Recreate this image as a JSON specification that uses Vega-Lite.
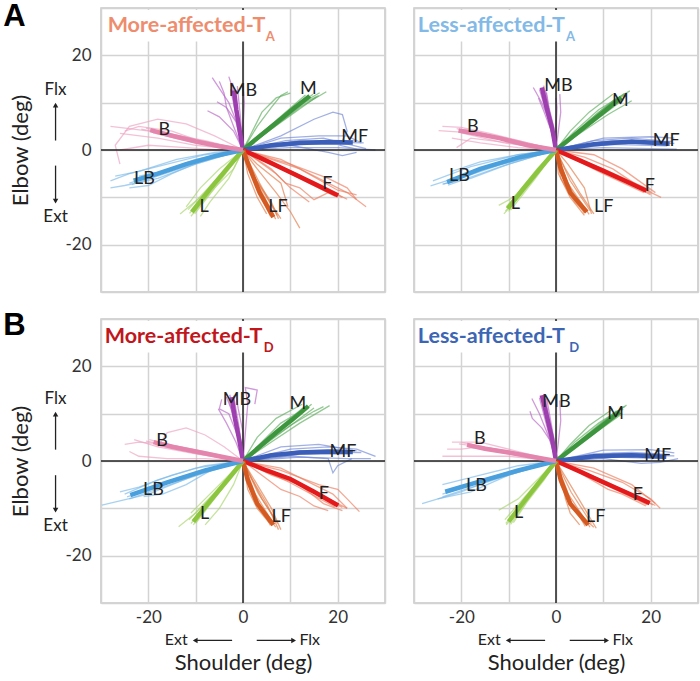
{
"$schema": "https://vega.github.io/schema/vega-lite/v6.json",
"background": "white",
"padding": {"left": 2, "top": 0, "right": 2, "bottom": 2},
"columns": 2,
"spacing": {"row": 27, "column": 29},
"bounds": "flush",
"config": {
  "view": {"stroke": "#c8c8c8", "strokeWidth": 1.5},
  "axis": {"domain": false, "ticks": false, "grid": true, "gridColor": "#d3d3d3", "gridWidth": 1.5,
    "labelFont": "Lato", "labelFontSize": 17, "labelColor": "#333",
    "labelExpr": "datum.value == 20 ? '20' : datum.value == 0 ? '0' : datum.value == -20 ? '-20' : ''",
    "titleFont": "Lato", "titleFontSize": 22, "titleFontWeight": "normal", "titleColor": "#222"},
  "legend": {"disable": true}
},
"datasets": {
"one": [{"k": 1}],
"lab": [
{"p":1,"d":"MB","x":0,"y":12.5},{"p":1,"d":"M","x":13.8,"y":12.8},{"p":1,"d":"MF","x":23.6,"y":2.7},{"p":1,"d":"F","x":17.8,"y":-7.2},{"p":1,"d":"LF","x":7.4,"y":-12.1},{"p":1,"d":"L","x":-8.2,"y":-12.1},{"p":1,"d":"LB","x":-20.8,"y":-6.1},{"p":1,"d":"B","x":-16.6,"y":4.2},
{"p":2,"d":"MB","x":0.5,"y":13.5},{"p":2,"d":"M","x":13.6,"y":10.4},{"p":2,"d":"MF","x":23.3,"y":2},{"p":2,"d":"F","x":19.8,"y":-7.5},{"p":2,"d":"LF","x":10.1,"y":-12.1},{"p":2,"d":"L","x":-8.6,"y":-11.4},{"p":2,"d":"LB","x":-20.4,"y":-5.4},{"p":2,"d":"B","x":-17.6,"y":4.8},
{"p":3,"d":"MB","x":-1.3,"y":12.8},{"p":3,"d":"M","x":11.6,"y":12.1},{"p":3,"d":"MF","x":21.1,"y":1.9},{"p":3,"d":"F","x":17.1,"y":-6.9},{"p":3,"d":"LF","x":8.1,"y":-11.8},{"p":3,"d":"L","x":-8.1,"y":-11.1},{"p":3,"d":"LB","x":-18.9,"y":-6.2},{"p":3,"d":"B","x":-17.1,"y":4.2},
{"p":4,"d":"MB","x":0.1,"y":12.5},{"p":4,"d":"M","x":12.6,"y":10},{"p":4,"d":"MF","x":21.5,"y":1},{"p":4,"d":"F","x":17.3,"y":-7.2},{"p":4,"d":"LF","x":8.4,"y":-11.9},{"p":4,"d":"L","x":-7.9,"y":-11},{"p":4,"d":"LB","x":-16.8,"y":-5.2},{"p":4,"d":"B","x":-16.1,"y":4.6}
],
"t1": [
{"d":"MB","t":0,"x":0,"y":0},{"d":"MB","t":0,"x":-0.7,"y":4},{"d":"MB","t":0,"x":-1.4,"y":8.5},{"d":"MB","t":0,"x":-1.9,"y":12.6},
{"d":"MB","t":1,"x":0,"y":0},{"d":"MB","t":1,"x":-1,"y":5},{"d":"MB","t":1,"x":-3,"y":10},{"d":"MB","t":1,"x":-5,"y":13},{"d":"MB","t":1,"x":-6.5,"y":15.3},
{"d":"MB","t":2,"x":0,"y":0},{"d":"MB","t":2,"x":-2,"y":4},{"d":"MB","t":2,"x":-5,"y":7},{"d":"MB","t":2,"x":-7.5,"y":8.3},
{"d":"MB","t":3,"x":0,"y":0},{"d":"MB","t":3,"x":-1,"y":6},{"d":"MB","t":3,"x":-2,"y":11},{"d":"MB","t":3,"x":-2.5,"y":14},{"d":"MB","t":3,"x":-3,"y":15.5},
{"d":"MB","t":4,"x":0,"y":0},{"d":"MB","t":4,"x":0,"y":5},{"d":"MB","t":4,"x":0.3,"y":10},{"d":"MB","t":4,"x":0,"y":13.5},
{"d":"MB","t":5,"x":0,"y":0},{"d":"MB","t":5,"x":-1.5,"y":6},{"d":"MB","t":5,"x":-3.5,"y":9},{"d":"MB","t":5,"x":-5.5,"y":10.2},
{"d":"MB","t":6,"x":0,"y":0},{"d":"MB","t":6,"x":-2,"y":5},{"d":"MB","t":6,"x":-3.5,"y":9},{"d":"MB","t":6,"x":-4,"y":12},{"d":"MB","t":6,"x":-5,"y":14.5},
{"d":"MB","t":7,"x":0,"y":0},{"d":"MB","t":7,"x":-0.5,"y":6.5},{"d":"MB","t":7,"x":-1.2,"y":13.5},
{"d":"MB","t":8,"x":0,"y":0},{"d":"MB","t":8,"x":-1.2,"y":6},{"d":"MB","t":8,"x":-2.6,"y":12.8},
{"d":"MB","t":9,"x":0,"y":0},{"d":"MB","t":9,"x":-0.8,"y":6.2},{"d":"MB","t":9,"x":-2.2,"y":14.2},
{"d":"M","t":0,"x":0,"y":0},{"d":"M","t":0,"x":3.5,"y":2.9},{"d":"M","t":0,"x":7,"y":5.7},{"d":"M","t":0,"x":10.5,"y":8.6},{"d":"M","t":0,"x":14.1,"y":11.4},
{"d":"M","t":1,"x":0,"y":0},{"d":"M","t":1,"x":3,"y":5},{"d":"M","t":1,"x":6,"y":9},{"d":"M","t":1,"x":8,"y":11.5},{"d":"M","t":1,"x":9.5,"y":12.3},
{"d":"M","t":2,"x":0,"y":0},{"d":"M","t":2,"x":5,"y":4.5},{"d":"M","t":2,"x":10,"y":8.5},{"d":"M","t":2,"x":16.2,"y":12.1},
{"d":"M","t":3,"x":0,"y":0},{"d":"M","t":3,"x":6,"y":4.5},{"d":"M","t":3,"x":12,"y":9},{"d":"M","t":3,"x":17.6,"y":12.3},
{"d":"M","t":4,"x":0,"y":0},{"d":"M","t":4,"x":4,"y":3},{"d":"M","t":4,"x":9,"y":7},{"d":"M","t":4,"x":13,"y":10},{"d":"M","t":4,"x":16,"y":11.5},
{"d":"M","t":5,"x":0,"y":0},{"d":"M","t":5,"x":2,"y":4},{"d":"M","t":5,"x":4,"y":8},{"d":"M","t":5,"x":7,"y":11},{"d":"M","t":5,"x":10,"y":12},
{"d":"M","t":7,"x":0,"y":0},{"d":"M","t":7,"x":7,"y":6},{"d":"M","t":7,"x":14.8,"y":11.8},
{"d":"M","t":8,"x":0,"y":0},{"d":"M","t":8,"x":7.5,"y":5.5},{"d":"M","t":8,"x":15.5,"y":11.2},
{"d":"M","t":9,"x":0,"y":0},{"d":"M","t":9,"x":6.5,"y":5.8},{"d":"M","t":9,"x":13.2,"y":11.6},
{"d":"MF","t":0,"x":0,"y":0},{"d":"MF","t":0,"x":6,"y":1},{"d":"MF","t":0,"x":12,"y":1.5},{"d":"MF","t":0,"x":18,"y":1.7},{"d":"MF","t":0,"x":23.2,"y":1.6},
{"d":"MF","t":1,"x":0,"y":0},{"d":"MF","t":1,"x":8,"y":3},{"d":"MF","t":1,"x":15,"y":6.5},{"d":"MF","t":1,"x":19,"y":8},{"d":"MF","t":1,"x":21,"y":7.5},{"d":"MF","t":1,"x":22,"y":4},{"d":"MF","t":1,"x":20.5,"y":1},{"d":"MF","t":1,"x":24,"y":0.2},
{"d":"MF","t":2,"x":0,"y":0},{"d":"MF","t":2,"x":10,"y":0.5},{"d":"MF","t":2,"x":20,"y":0.5},{"d":"MF","t":2,"x":28,"y":0},
{"d":"MF","t":3,"x":0,"y":0},{"d":"MF","t":3,"x":8,"y":2.5},{"d":"MF","t":3,"x":16,"y":3},{"d":"MF","t":3,"x":22,"y":3},{"d":"MF","t":3,"x":25,"y":1.5},
{"d":"MF","t":4,"x":0,"y":0},{"d":"MF","t":4,"x":10,"y":1},{"d":"MF","t":4,"x":18,"y":-0.5},{"d":"MF","t":4,"x":21,"y":-1.2},{"d":"MF","t":4,"x":24,"y":-0.5},
{"d":"MF","t":5,"x":0,"y":0},{"d":"MF","t":5,"x":9,"y":2},{"d":"MF","t":5,"x":17,"y":2.5},{"d":"MF","t":5,"x":26,"y":0.3},
{"d":"MF","t":7,"x":0,"y":0},{"d":"MF","t":7,"x":12,"y":2},{"d":"MF","t":7,"x":24,"y":1.9},
{"d":"MF","t":8,"x":0,"y":0},{"d":"MF","t":8,"x":12,"y":1.2},{"d":"MF","t":8,"x":22.5,"y":1.2},
{"d":"MF","t":9,"x":0,"y":0},{"d":"MF","t":9,"x":11,"y":1.8},{"d":"MF","t":9,"x":25.5,"y":1.5},
{"d":"F","t":0,"x":0,"y":0},{"d":"F","t":0,"x":5,"y":-2.3},{"d":"F","t":0,"x":10,"y":-4.7},{"d":"F","t":0,"x":15,"y":-7.1},{"d":"F","t":0,"x":20.1,"y":-9.6},
{"d":"F","t":1,"x":0,"y":0},{"d":"F","t":1,"x":8,"y":-2},{"d":"F","t":1,"x":16,"y":-6},{"d":"F","t":1,"x":22,"y":-9},{"d":"F","t":1,"x":26,"y":-12},
{"d":"F","t":2,"x":0,"y":0},{"d":"F","t":2,"x":6,"y":-4},{"d":"F","t":2,"x":9,"y":-7},{"d":"F","t":2,"x":12,"y":-8},{"d":"F","t":2,"x":15,"y":-10.5},{"d":"F","t":2,"x":18,"y":-9},
{"d":"F","t":3,"x":0,"y":0},{"d":"F","t":3,"x":10,"y":-3},{"d":"F","t":3,"x":18,"y":-6},{"d":"F","t":3,"x":22,"y":-8},{"d":"F","t":3,"x":24,"y":-10.5},
{"d":"F","t":4,"x":0,"y":0},{"d":"F","t":4,"x":7,"y":-5},{"d":"F","t":4,"x":10,"y":-8},{"d":"F","t":4,"x":14,"y":-11},
{"d":"F","t":5,"x":0,"y":0},{"d":"F","t":5,"x":12,"y":-4},{"d":"F","t":5,"x":20,"y":-8.5},{"d":"F","t":5,"x":24,"y":-9.5},
{"d":"F","t":7,"x":0,"y":0},{"d":"F","t":7,"x":10,"y":-4.4},{"d":"F","t":7,"x":21,"y":-10},
{"d":"F","t":8,"x":0,"y":0},{"d":"F","t":8,"x":10,"y":-5},{"d":"F","t":8,"x":19.5,"y":-9.8},
{"d":"F","t":9,"x":0,"y":0},{"d":"F","t":9,"x":11,"y":-4.8},{"d":"F","t":9,"x":22,"y":-10.4},
{"d":"LF","t":0,"x":0,"y":0},{"d":"LF","t":0,"x":1.5,"y":-4},{"d":"LF","t":0,"x":3.5,"y":-9},{"d":"LF","t":0,"x":6.4,"y":-14.2},
{"d":"LF","t":1,"x":0,"y":0},{"d":"LF","t":1,"x":2,"y":-5},{"d":"LF","t":1,"x":5,"y":-10},{"d":"LF","t":1,"x":8,"y":-14.5},
{"d":"LF","t":2,"x":0,"y":0},{"d":"LF","t":2,"x":3,"y":-4},{"d":"LF","t":2,"x":7,"y":-9},{"d":"LF","t":2,"x":10,"y":-13},{"d":"LF","t":2,"x":12,"y":-16.5},
{"d":"LF","t":3,"x":0,"y":0},{"d":"LF","t":3,"x":1,"y":-5},{"d":"LF","t":3,"x":3,"y":-10},{"d":"LF","t":3,"x":5,"y":-13.5},
{"d":"LF","t":4,"x":0,"y":0},{"d":"LF","t":4,"x":2.5,"y":-6},{"d":"LF","t":4,"x":6,"y":-11},{"d":"LF","t":4,"x":7.5,"y":-14.5},
{"d":"LF","t":5,"x":0,"y":0},{"d":"LF","t":5,"x":3,"y":-3},{"d":"LF","t":5,"x":8,"y":-7},{"d":"LF","t":5,"x":9.5,"y":-12},
{"d":"LF","t":7,"x":0,"y":0},{"d":"LF","t":7,"x":3,"y":-7},{"d":"LF","t":7,"x":6.9,"y":-14.6},
{"d":"LF","t":8,"x":0,"y":0},{"d":"LF","t":8,"x":2.8,"y":-7.5},{"d":"LF","t":8,"x":5.8,"y":-14},
{"d":"LF","t":9,"x":0,"y":0},{"d":"LF","t":9,"x":3.5,"y":-7},{"d":"LF","t":9,"x":7.2,"y":-13.8},
{"d":"L","t":0,"x":0,"y":0},{"d":"L","t":0,"x":-3,"y":-3.5},{"d":"L","t":0,"x":-7,"y":-8.3},{"d":"L","t":0,"x":-10.8,"y":-13.1},
{"d":"L","t":1,"x":0,"y":0},{"d":"L","t":1,"x":-4,"y":-5},{"d":"L","t":1,"x":-9,"y":-10},{"d":"L","t":1,"x":-13.3,"y":-13.5},
{"d":"L","t":2,"x":0,"y":0},{"d":"L","t":2,"x":-2,"y":-4},{"d":"L","t":2,"x":-6,"y":-8},{"d":"L","t":2,"x":-11,"y":-14},
{"d":"L","t":3,"x":0,"y":0},{"d":"L","t":3,"x":-5,"y":-4},{"d":"L","t":3,"x":-9,"y":-8},{"d":"L","t":3,"x":-12,"y":-12},
{"d":"L","t":4,"x":0,"y":0},{"d":"L","t":4,"x":-3,"y":-6},{"d":"L","t":4,"x":-7,"y":-11},{"d":"L","t":4,"x":-9,"y":-14},
{"d":"L","t":7,"x":0,"y":0},{"d":"L","t":7,"x":-5.5,"y":-6.5},{"d":"L","t":7,"x":-11.3,"y":-13.4},
{"d":"L","t":8,"x":0,"y":0},{"d":"L","t":8,"x":-5,"y":-6.8},{"d":"L","t":8,"x":-10.2,"y":-13.5},
{"d":"L","t":9,"x":0,"y":0},{"d":"L","t":9,"x":-5.7,"y":-6.2},{"d":"L","t":9,"x":-11.6,"y":-12.6},
{"d":"LB","t":0,"x":0,"y":0},{"d":"LB","t":0,"x":-6,"y":-1.3},{"d":"LB","t":0,"x":-12,"y":-3},{"d":"LB","t":0,"x":-18,"y":-5},{"d":"LB","t":0,"x":-23.1,"y":-6.5},
{"d":"LB","t":1,"x":0,"y":0},{"d":"LB","t":1,"x":-8,"y":-1},{"d":"LB","t":1,"x":-16,"y":-3},{"d":"LB","t":1,"x":-24,"y":-5},{"d":"LB","t":1,"x":-28,"y":-6.5},
{"d":"LB","t":2,"x":0,"y":0},{"d":"LB","t":2,"x":-10,"y":-3},{"d":"LB","t":2,"x":-18,"y":-6},{"d":"LB","t":2,"x":-25,"y":-7.5},{"d":"LB","t":2,"x":-28,"y":-8},
{"d":"LB","t":3,"x":0,"y":0},{"d":"LB","t":3,"x":-8,"y":-2},{"d":"LB","t":3,"x":-15,"y":-5},{"d":"LB","t":3,"x":-20,"y":-7.5},{"d":"LB","t":3,"x":-24,"y":-8},
{"d":"LB","t":4,"x":0,"y":0},{"d":"LB","t":4,"x":-6,"y":-0.5},{"d":"LB","t":4,"x":-14,"y":-2},{"d":"LB","t":4,"x":-22,"y":-4.5},{"d":"LB","t":4,"x":-27,"y":-5.5},
{"d":"LB","t":5,"x":0,"y":0},{"d":"LB","t":5,"x":-10,"y":-2},{"d":"LB","t":5,"x":-17,"y":-4.5},{"d":"LB","t":5,"x":-22,"y":-5.5},
{"d":"LB","t":7,"x":0,"y":0},{"d":"LB","t":7,"x":-12,"y":-3.2},{"d":"LB","t":7,"x":-24,"y":-7},
{"d":"LB","t":8,"x":0,"y":0},{"d":"LB","t":8,"x":-11,"y":-2.6},{"d":"LB","t":8,"x":-22,"y":-6},
{"d":"LB","t":9,"x":0,"y":0},{"d":"LB","t":9,"x":-12,"y":-3.5},{"d":"LB","t":9,"x":-23.5,"y":-7.3},
{"d":"B","t":0,"x":0,"y":0},{"d":"B","t":0,"x":-5,"y":0.8},{"d":"B","t":0,"x":-10,"y":1.8},{"d":"B","t":0,"x":-15,"y":3},{"d":"B","t":0,"x":-19.6,"y":4.2},
{"d":"B","t":1,"x":0,"y":0},{"d":"B","t":1,"x":-8,"y":2},{"d":"B","t":1,"x":-16,"y":3.5},{"d":"B","t":1,"x":-24,"y":4.5},{"d":"B","t":1,"x":-28,"y":5},
{"d":"B","t":2,"x":0,"y":0},{"d":"B","t":2,"x":-6,"y":3},{"d":"B","t":2,"x":-12,"y":5.5},{"d":"B","t":2,"x":-18,"y":6.5},{"d":"B","t":2,"x":-24,"y":5},{"d":"B","t":2,"x":-27,"y":1},{"d":"B","t":2,"x":-26,"y":-3},
{"d":"B","t":3,"x":0,"y":0},{"d":"B","t":3,"x":-10,"y":1},{"d":"B","t":3,"x":-18,"y":2.5},{"d":"B","t":3,"x":-26,"y":3.5},
{"d":"B","t":4,"x":0,"y":0},{"d":"B","t":4,"x":-8,"y":1.5},{"d":"B","t":4,"x":-15,"y":4},{"d":"B","t":4,"x":-22,"y":5},{"d":"B","t":4,"x":-25,"y":4},
{"d":"B","t":5,"x":0,"y":0},{"d":"B","t":5,"x":-5,"y":0},{"d":"B","t":5,"x":-12,"y":0.5},{"d":"B","t":5,"x":-20,"y":1},{"d":"B","t":5,"x":-26,"y":0},
{"d":"B","t":7,"x":0,"y":0},{"d":"B","t":7,"x":-10,"y":2.2},{"d":"B","t":7,"x":-20.5,"y":4.6},
{"d":"B","t":8,"x":0,"y":0},{"d":"B","t":8,"x":-10,"y":1.5},{"d":"B","t":8,"x":-19,"y":3.6},
{"d":"B","t":9,"x":0,"y":0},{"d":"B","t":9,"x":-11,"y":2.4},{"d":"B","t":9,"x":-21.5,"y":4.4}
],
"t2": [
{"d":"MB","t":0,"x":0,"y":0},{"d":"MB","t":0,"x":-0.8,"y":4.5},{"d":"MB","t":0,"x":-2,"y":9},{"d":"MB","t":0,"x":-3,"y":13.2},
{"d":"MB","t":1,"x":0,"y":0},{"d":"MB","t":1,"x":-1,"y":5},{"d":"MB","t":1,"x":-3,"y":10},{"d":"MB","t":1,"x":-4.8,"y":13.2},
{"d":"MB","t":2,"x":0,"y":0},{"d":"MB","t":2,"x":0.5,"y":4},{"d":"MB","t":2,"x":1,"y":8},{"d":"MB","t":2,"x":0.8,"y":11.8},
{"d":"MB","t":3,"x":0,"y":0},{"d":"MB","t":3,"x":-1,"y":4},{"d":"MB","t":3,"x":-2.5,"y":8},{"d":"MB","t":3,"x":-3.7,"y":11},
{"d":"MB","t":4,"x":0,"y":0},{"d":"MB","t":4,"x":0,"y":5},{"d":"MB","t":4,"x":0.2,"y":9},{"d":"MB","t":4,"x":0,"y":11},
{"d":"MB","t":5,"x":0,"y":0},{"d":"MB","t":5,"x":-0.5,"y":5},{"d":"MB","t":5,"x":-1.5,"y":9},{"d":"MB","t":5,"x":-2,"y":12.1},
{"d":"MB","t":6,"x":0,"y":0},{"d":"MB","t":6,"x":-1.2,"y":6.8},{"d":"MB","t":6,"x":-2.6,"y":13.6},
{"d":"MB","t":7,"x":0,"y":0},{"d":"MB","t":7,"x":-1.6,"y":6.5},{"d":"MB","t":7,"x":-3.5,"y":12.8},
{"d":"MB","t":8,"x":0,"y":0},{"d":"MB","t":8,"x":-1,"y":6},{"d":"MB","t":8,"x":-2.2,"y":12.6},
{"d":"M","t":0,"x":0,"y":0},{"d":"M","t":0,"x":3.5,"y":2.8},{"d":"M","t":0,"x":7,"y":5.6},{"d":"M","t":0,"x":10.5,"y":8.4},{"d":"M","t":0,"x":13.8,"y":11.1},
{"d":"M","t":1,"x":0,"y":0},{"d":"M","t":1,"x":4,"y":4},{"d":"M","t":1,"x":9,"y":8.5},{"d":"M","t":1,"x":15.6,"y":12.5},
{"d":"M","t":2,"x":0,"y":0},{"d":"M","t":2,"x":3,"y":4},{"d":"M","t":2,"x":7,"y":8},{"d":"M","t":2,"x":12,"y":11.8},
{"d":"M","t":3,"x":0,"y":0},{"d":"M","t":3,"x":5,"y":3.5},{"d":"M","t":3,"x":11,"y":7.5},{"d":"M","t":3,"x":16,"y":10.4},
{"d":"M","t":4,"x":0,"y":0},{"d":"M","t":4,"x":4,"y":3.5},{"d":"M","t":4,"x":9,"y":8},{"d":"M","t":4,"x":14.5,"y":12},
{"d":"M","t":5,"x":0,"y":0},{"d":"M","t":5,"x":7,"y":6},{"d":"M","t":5,"x":14.4,"y":11.6},
{"d":"M","t":6,"x":0,"y":0},{"d":"M","t":6,"x":7,"y":5.3},{"d":"M","t":6,"x":14.2,"y":10.6},
{"d":"M","t":7,"x":0,"y":0},{"d":"M","t":7,"x":6.5,"y":5.8},{"d":"M","t":7,"x":13,"y":11.2},
{"d":"MF","t":0,"x":0,"y":0},{"d":"MF","t":0,"x":8,"y":1.2},{"d":"MF","t":0,"x":16,"y":1.8},{"d":"MF","t":0,"x":24,"y":1.3},
{"d":"MF","t":1,"x":0,"y":0},{"d":"MF","t":1,"x":10,"y":2.5},{"d":"MF","t":1,"x":20,"y":2.8},{"d":"MF","t":1,"x":25,"y":2.5},
{"d":"MF","t":2,"x":0,"y":0},{"d":"MF","t":2,"x":10,"y":0.5},{"d":"MF","t":2,"x":20,"y":0.3},{"d":"MF","t":2,"x":25.5,"y":0.2},
{"d":"MF","t":3,"x":0,"y":0},{"d":"MF","t":3,"x":10,"y":1.8},{"d":"MF","t":3,"x":18,"y":2},{"d":"MF","t":3,"x":24,"y":1},
{"d":"MF","t":4,"x":0,"y":0},{"d":"MF","t":4,"x":8,"y":2},{"d":"MF","t":4,"x":16,"y":2.5},{"d":"MF","t":4,"x":22,"y":2},
{"d":"MF","t":5,"x":0,"y":0},{"d":"MF","t":5,"x":12,"y":2},{"d":"MF","t":5,"x":24.5,"y":1.8},
{"d":"MF","t":6,"x":0,"y":0},{"d":"MF","t":6,"x":12,"y":1.2},{"d":"MF","t":6,"x":23.5,"y":0.9},
{"d":"MF","t":7,"x":0,"y":0},{"d":"MF","t":7,"x":11,"y":1.6},{"d":"MF","t":7,"x":25,"y":1.4},
{"d":"F","t":0,"x":0,"y":0},{"d":"F","t":0,"x":5,"y":-2.2},{"d":"F","t":0,"x":10,"y":-4.4},{"d":"F","t":0,"x":15,"y":-6.7},{"d":"F","t":0,"x":19.1,"y":-8.6},
{"d":"F","t":1,"x":0,"y":0},{"d":"F","t":1,"x":6,"y":-1.5},{"d":"F","t":1,"x":12,"y":-4},{"d":"F","t":1,"x":18,"y":-8},{"d":"F","t":1,"x":22.2,"y":-10},
{"d":"F","t":2,"x":0,"y":0},{"d":"F","t":2,"x":6,"y":-2.5},{"d":"F","t":2,"x":13,"y":-5.5},{"d":"F","t":2,"x":20,"y":-9.5},
{"d":"F","t":3,"x":0,"y":0},{"d":"F","t":3,"x":8,"y":-1},{"d":"F","t":3,"x":14,"y":-4},{"d":"F","t":3,"x":21,"y":-9},
{"d":"F","t":4,"x":0,"y":0},{"d":"F","t":4,"x":7,"y":-3},{"d":"F","t":4,"x":14,"y":-6},{"d":"F","t":4,"x":20,"y":-8.8},
{"d":"F","t":5,"x":0,"y":0},{"d":"F","t":5,"x":10,"y":-4.2},{"d":"F","t":5,"x":20,"y":-9.2},
{"d":"F","t":6,"x":0,"y":0},{"d":"F","t":6,"x":9.5,"y":-4.8},{"d":"F","t":6,"x":18.6,"y":-9},
{"d":"F","t":7,"x":0,"y":0},{"d":"F","t":7,"x":10,"y":-4},{"d":"F","t":7,"x":19.8,"y":-8.4},
{"d":"LF","t":0,"x":0,"y":0},{"d":"LF","t":0,"x":1,"y":-4},{"d":"LF","t":0,"x":3,"y":-9},{"d":"LF","t":0,"x":6.5,"y":-13.1},
{"d":"LF","t":1,"x":0,"y":0},{"d":"LF","t":1,"x":2,"y":-4},{"d":"LF","t":1,"x":5,"y":-9},{"d":"LF","t":1,"x":8,"y":-13.5},
{"d":"LF","t":2,"x":0,"y":0},{"d":"LF","t":2,"x":0.5,"y":-5},{"d":"LF","t":2,"x":3,"y":-10},{"d":"LF","t":2,"x":6,"y":-13.8},
{"d":"LF","t":3,"x":0,"y":0},{"d":"LF","t":3,"x":2.5,"y":-3},{"d":"LF","t":3,"x":6,"y":-8},{"d":"LF","t":3,"x":7.5,"y":-13.5},
{"d":"LF","t":4,"x":0,"y":0},{"d":"LF","t":4,"x":1,"y":-6},{"d":"LF","t":4,"x":4,"y":-11},{"d":"LF","t":4,"x":5.5,"y":-12.5},
{"d":"LF","t":5,"x":0,"y":0},{"d":"LF","t":5,"x":2.5,"y":-7},{"d":"LF","t":5,"x":7,"y":-13.6},
{"d":"LF","t":6,"x":0,"y":0},{"d":"LF","t":6,"x":2.2,"y":-6.5},{"d":"LF","t":6,"x":6,"y":-13.4},
{"d":"LF","t":7,"x":0,"y":0},{"d":"LF","t":7,"x":3,"y":-6.5},{"d":"LF","t":7,"x":7.2,"y":-12.8},
{"d":"L","t":0,"x":0,"y":0},{"d":"L","t":0,"x":-3,"y":-3.5},{"d":"L","t":0,"x":-7,"y":-8.3},{"d":"L","t":0,"x":-10.2,"y":-12.4},
{"d":"L","t":1,"x":0,"y":0},{"d":"L","t":1,"x":-5,"y":-6},{"d":"L","t":1,"x":-9,"y":-10},{"d":"L","t":1,"x":-12.1,"y":-11.7},
{"d":"L","t":2,"x":0,"y":0},{"d":"L","t":2,"x":-3,"y":-4},{"d":"L","t":2,"x":-7,"y":-9},{"d":"L","t":2,"x":-11,"y":-13.5},
{"d":"L","t":3,"x":0,"y":0},{"d":"L","t":3,"x":-4,"y":-4},{"d":"L","t":3,"x":-8,"y":-9},{"d":"L","t":3,"x":-10,"y":-13},
{"d":"L","t":4,"x":0,"y":0},{"d":"L","t":4,"x":-5,"y":-6.5},{"d":"L","t":4,"x":-10.7,"y":-12.9},
{"d":"L","t":5,"x":0,"y":0},{"d":"L","t":5,"x":-5,"y":-6},{"d":"L","t":5,"x":-10.5,"y":-12},
{"d":"L","t":6,"x":0,"y":0},{"d":"L","t":6,"x":-4.5,"y":-6.2},{"d":"L","t":6,"x":-9.6,"y":-12.7},
{"d":"LB","t":0,"x":0,"y":0},{"d":"LB","t":0,"x":-8,"y":-1.6},{"d":"LB","t":0,"x":-16,"y":-4},{"d":"LB","t":0,"x":-23,"y":-6.8},
{"d":"LB","t":1,"x":0,"y":0},{"d":"LB","t":1,"x":-8,"y":-1},{"d":"LB","t":1,"x":-18,"y":-3.5},{"d":"LB","t":1,"x":-26,"y":-6.5},
{"d":"LB","t":2,"x":0,"y":0},{"d":"LB","t":2,"x":-10,"y":-2},{"d":"LB","t":2,"x":-20,"y":-5.5},{"d":"LB","t":2,"x":-26.5,"y":-7.6},
{"d":"LB","t":3,"x":0,"y":0},{"d":"LB","t":3,"x":-8,"y":-1},{"d":"LB","t":3,"x":-16,"y":-2.5},{"d":"LB","t":3,"x":-22,"y":-4.5},
{"d":"LB","t":4,"x":0,"y":0},{"d":"LB","t":4,"x":-10,"y":-3},{"d":"LB","t":4,"x":-18,"y":-6},{"d":"LB","t":4,"x":-24,"y":-7.2},
{"d":"LB","t":5,"x":0,"y":0},{"d":"LB","t":5,"x":-12,"y":-3.2},{"d":"LB","t":5,"x":-23.8,"y":-7.2},
{"d":"LB","t":6,"x":0,"y":0},{"d":"LB","t":6,"x":-11,"y":-2.8},{"d":"LB","t":6,"x":-22.5,"y":-6.2},
{"d":"LB","t":7,"x":0,"y":0},{"d":"LB","t":7,"x":-12,"y":-3.6},{"d":"LB","t":7,"x":-22.8,"y":-7.4},
{"d":"B","t":0,"x":0,"y":0},{"d":"B","t":0,"x":-6,"y":1},{"d":"B","t":0,"x":-12,"y":2.5},{"d":"B","t":0,"x":-17,"y":3.5},{"d":"B","t":0,"x":-20.6,"y":4.1},
{"d":"B","t":1,"x":0,"y":0},{"d":"B","t":1,"x":-8,"y":2},{"d":"B","t":1,"x":-16,"y":3.5},{"d":"B","t":1,"x":-24.8,"y":4.1},
{"d":"B","t":2,"x":0,"y":0},{"d":"B","t":2,"x":-10,"y":1.5},{"d":"B","t":2,"x":-18,"y":2.5},{"d":"B","t":2,"x":-21,"y":0.5},
{"d":"B","t":3,"x":0,"y":0},{"d":"B","t":3,"x":-6,"y":1.5},{"d":"B","t":3,"x":-14,"y":3.5},{"d":"B","t":3,"x":-20,"y":4.8},{"d":"B","t":3,"x":-24,"y":5},
{"d":"B","t":4,"x":0,"y":0},{"d":"B","t":4,"x":-8,"y":0.5},{"d":"B","t":4,"x":-16,"y":1.5},{"d":"B","t":4,"x":-22,"y":2.5},
{"d":"B","t":5,"x":0,"y":0},{"d":"B","t":5,"x":-10,"y":2},{"d":"B","t":5,"x":-21,"y":4.5},
{"d":"B","t":6,"x":0,"y":0},{"d":"B","t":6,"x":-11,"y":1.5},{"d":"B","t":6,"x":-20,"y":3.6},
{"d":"B","t":7,"x":0,"y":0},{"d":"B","t":7,"x":-10,"y":2.3},{"d":"B","t":7,"x":-19.5,"y":4.4}
],
"t3": [
{"d":"MB","t":0,"x":0,"y":0},{"d":"MB","t":0,"x":-0.8,"y":4.5},{"d":"MB","t":0,"x":-1.7,"y":9},{"d":"MB","t":0,"x":-2.4,"y":13.5},
{"d":"MB","t":1,"x":0,"y":0},{"d":"MB","t":1,"x":-1,"y":5},{"d":"MB","t":1,"x":-3,"y":10},{"d":"MB","t":1,"x":-5,"y":11},{"d":"MB","t":1,"x":-4.5,"y":13},
{"d":"MB","t":2,"x":0,"y":0},{"d":"MB","t":2,"x":0.5,"y":6},{"d":"MB","t":2,"x":1,"y":12},{"d":"MB","t":2,"x":0.5,"y":15.5},{"d":"MB","t":2,"x":3,"y":15},{"d":"MB","t":2,"x":2.5,"y":12},
{"d":"MB","t":3,"x":0,"y":0},{"d":"MB","t":3,"x":-1,"y":6},{"d":"MB","t":3,"x":-2.5,"y":11},{"d":"MB","t":3,"x":-3.5,"y":13.5},
{"d":"MB","t":4,"x":0,"y":0},{"d":"MB","t":4,"x":-1.5,"y":4},{"d":"MB","t":4,"x":-3.5,"y":8},{"d":"MB","t":4,"x":-5.2,"y":11},
{"d":"MB","t":5,"x":0,"y":0},{"d":"MB","t":5,"x":0,"y":6},{"d":"MB","t":5,"x":-1,"y":11},{"d":"MB","t":5,"x":-1.5,"y":14},
{"d":"MB","t":6,"x":0,"y":0},{"d":"MB","t":6,"x":-1,"y":6.5},{"d":"MB","t":6,"x":-2.8,"y":14},
{"d":"MB","t":7,"x":0,"y":0},{"d":"MB","t":7,"x":-1.4,"y":6.8},{"d":"MB","t":7,"x":-3,"y":13},
{"d":"MB","t":8,"x":0,"y":0},{"d":"MB","t":8,"x":-0.8,"y":7},{"d":"MB","t":8,"x":-2,"y":13.8},
{"d":"M","t":0,"x":0,"y":0},{"d":"M","t":0,"x":3.5,"y":3},{"d":"M","t":0,"x":7,"y":6},{"d":"M","t":0,"x":10.5,"y":8.8},{"d":"M","t":0,"x":13.8,"y":11.6},
{"d":"M","t":1,"x":0,"y":0},{"d":"M","t":1,"x":6,"y":4},{"d":"M","t":1,"x":12,"y":8},{"d":"M","t":1,"x":18.3,"y":11.7},
{"d":"M","t":2,"x":0,"y":0},{"d":"M","t":2,"x":4,"y":4},{"d":"M","t":2,"x":8,"y":8},{"d":"M","t":2,"x":13,"y":11},
{"d":"M","t":3,"x":0,"y":0},{"d":"M","t":3,"x":3,"y":5},{"d":"M","t":3,"x":7,"y":9},{"d":"M","t":3,"x":12.5,"y":12},
{"d":"M","t":4,"x":0,"y":0},{"d":"M","t":4,"x":5,"y":4},{"d":"M","t":4,"x":10,"y":7.5},{"d":"M","t":4,"x":15,"y":10.5},{"d":"M","t":4,"x":17,"y":11.5},
{"d":"M","t":5,"x":0,"y":0},{"d":"M","t":5,"x":7,"y":6.2},{"d":"M","t":5,"x":14.5,"y":12},
{"d":"M","t":6,"x":0,"y":0},{"d":"M","t":6,"x":7.5,"y":5.6},{"d":"M","t":6,"x":15,"y":11.2},
{"d":"M","t":7,"x":0,"y":0},{"d":"M","t":7,"x":6.5,"y":6},{"d":"M","t":7,"x":13,"y":11.5},
{"d":"MF","t":0,"x":0,"y":0},{"d":"MF","t":0,"x":6,"y":1.2},{"d":"MF","t":0,"x":12,"y":1.8},{"d":"MF","t":0,"x":18,"y":2},{"d":"MF","t":0,"x":23.2,"y":1.9},
{"d":"MF","t":1,"x":0,"y":0},{"d":"MF","t":1,"x":10,"y":2.5},{"d":"MF","t":1,"x":18,"y":3},{"d":"MF","t":1,"x":24,"y":2.5},{"d":"MF","t":1,"x":28,"y":1},
{"d":"MF","t":2,"x":0,"y":0},{"d":"MF","t":2,"x":10,"y":1},{"d":"MF","t":2,"x":18,"y":0.5},{"d":"MF","t":2,"x":19,"y":-2.5},{"d":"MF","t":2,"x":20,"y":-1},{"d":"MF","t":2,"x":23,"y":0.5},
{"d":"MF","t":3,"x":0,"y":0},{"d":"MF","t":3,"x":8,"y":3},{"d":"MF","t":3,"x":16,"y":3.5},{"d":"MF","t":3,"x":22,"y":2.5},
{"d":"MF","t":4,"x":0,"y":0},{"d":"MF","t":4,"x":12,"y":0.8},{"d":"MF","t":4,"x":22,"y":0.5},{"d":"MF","t":4,"x":27,"y":0.5},
{"d":"MF","t":5,"x":0,"y":0},{"d":"MF","t":5,"x":12,"y":2.2},{"d":"MF","t":5,"x":24,"y":2.2},
{"d":"MF","t":6,"x":0,"y":0},{"d":"MF","t":6,"x":12,"y":1.4},{"d":"MF","t":6,"x":22.5,"y":1.5},
{"d":"MF","t":7,"x":0,"y":0},{"d":"MF","t":7,"x":11,"y":2},{"d":"MF","t":7,"x":25,"y":1.8},
{"d":"F","t":0,"x":0,"y":0},{"d":"F","t":0,"x":5,"y":-2},{"d":"F","t":0,"x":10,"y":-3.8},{"d":"F","t":0,"x":15,"y":-6.5},{"d":"F","t":0,"x":20.1,"y":-9.4},
{"d":"F","t":1,"x":0,"y":0},{"d":"F","t":1,"x":8,"y":-2},{"d":"F","t":1,"x":16,"y":-5},{"d":"F","t":1,"x":20,"y":-6},{"d":"F","t":1,"x":22,"y":-8},{"d":"F","t":1,"x":24.6,"y":-10.7},
{"d":"F","t":2,"x":0,"y":0},{"d":"F","t":2,"x":4,"y":-3},{"d":"F","t":2,"x":8,"y":-6},{"d":"F","t":2,"x":12,"y":-7.5},{"d":"F","t":2,"x":15,"y":-9.5},{"d":"F","t":2,"x":18,"y":-10.5},
{"d":"F","t":3,"x":0,"y":0},{"d":"F","t":3,"x":8,"y":-1.5},{"d":"F","t":3,"x":14,"y":-4.5},{"d":"F","t":3,"x":19,"y":-7},{"d":"F","t":3,"x":22,"y":-10},
{"d":"F","t":4,"x":0,"y":0},{"d":"F","t":4,"x":6,"y":-3},{"d":"F","t":4,"x":12,"y":-5},{"d":"F","t":4,"x":17,"y":-9},{"d":"F","t":4,"x":21,"y":-10.5},
{"d":"F","t":5,"x":0,"y":0},{"d":"F","t":5,"x":10,"y":-4},{"d":"F","t":5,"x":21,"y":-9.8},
{"d":"F","t":6,"x":0,"y":0},{"d":"F","t":6,"x":10,"y":-4.6},{"d":"F","t":6,"x":19.4,"y":-9.7},
{"d":"F","t":7,"x":0,"y":0},{"d":"F","t":7,"x":11,"y":-4.4},{"d":"F","t":7,"x":22,"y":-10},
{"d":"LF","t":0,"x":0,"y":0},{"d":"LF","t":0,"x":1,"y":-4},{"d":"LF","t":0,"x":3,"y":-9},{"d":"LF","t":0,"x":6.4,"y":-13.5},
{"d":"LF","t":1,"x":0,"y":0},{"d":"LF","t":1,"x":2,"y":-4},{"d":"LF","t":1,"x":5,"y":-9},{"d":"LF","t":1,"x":7.5,"y":-14.5},
{"d":"LF","t":2,"x":0,"y":0},{"d":"LF","t":2,"x":1,"y":-6},{"d":"LF","t":2,"x":3,"y":-10},{"d":"LF","t":2,"x":5.5,"y":-13},
{"d":"LF","t":3,"x":0,"y":0},{"d":"LF","t":3,"x":3,"y":-5},{"d":"LF","t":3,"x":6,"y":-10},{"d":"LF","t":3,"x":8,"y":-14.5},
{"d":"LF","t":4,"x":0,"y":0},{"d":"LF","t":4,"x":1.5,"y":-3},{"d":"LF","t":4,"x":4,"y":-8},{"d":"LF","t":4,"x":7,"y":-12.5},
{"d":"LF","t":5,"x":0,"y":0},{"d":"LF","t":5,"x":2.6,"y":-7},{"d":"LF","t":5,"x":6.9,"y":-14},
{"d":"LF","t":6,"x":0,"y":0},{"d":"LF","t":6,"x":2.3,"y":-7},{"d":"LF","t":6,"x":5.8,"y":-13.6},
{"d":"LF","t":7,"x":0,"y":0},{"d":"LF","t":7,"x":3.2,"y":-6.8},{"d":"LF","t":7,"x":7.3,"y":-13.2},
{"d":"L","t":0,"x":0,"y":0},{"d":"L","t":0,"x":-3,"y":-3.7},{"d":"L","t":0,"x":-7,"y":-8.5},{"d":"L","t":0,"x":-10.5,"y":-12.8},
{"d":"L","t":1,"x":0,"y":0},{"d":"L","t":1,"x":-5,"y":-6},{"d":"L","t":1,"x":-10,"y":-11},{"d":"L","t":1,"x":-13.6,"y":-13.9},
{"d":"L","t":2,"x":0,"y":0},{"d":"L","t":2,"x":-3,"y":-4},{"d":"L","t":2,"x":-7,"y":-9},{"d":"L","t":2,"x":-10.5,"y":-13.5},
{"d":"L","t":3,"x":0,"y":0},{"d":"L","t":3,"x":-2,"y":-5},{"d":"L","t":3,"x":-5,"y":-10},{"d":"L","t":3,"x":-8,"y":-13.5},
{"d":"L","t":4,"x":0,"y":0},{"d":"L","t":4,"x":-4,"y":-4},{"d":"L","t":4,"x":-8,"y":-8},{"d":"L","t":4,"x":-11,"y":-11},
{"d":"L","t":5,"x":0,"y":0},{"d":"L","t":5,"x":-5.4,"y":-6.5},{"d":"L","t":5,"x":-11,"y":-13.2},
{"d":"L","t":6,"x":0,"y":0},{"d":"L","t":6,"x":-5,"y":-6.6},{"d":"L","t":6,"x":-10,"y":-13.2},
{"d":"L","t":7,"x":0,"y":0},{"d":"L","t":7,"x":-5.6,"y":-6.2},{"d":"L","t":7,"x":-11.4,"y":-12.4},
{"d":"LB","t":0,"x":0,"y":0},{"d":"LB","t":0,"x":-8,"y":-2},{"d":"LB","t":0,"x":-16,"y":-4.5},{"d":"LB","t":0,"x":-23.8,"y":-7.2},
{"d":"LB","t":1,"x":0,"y":0},{"d":"LB","t":1,"x":-10,"y":-3},{"d":"LB","t":1,"x":-20,"y":-7},{"d":"LB","t":1,"x":-29.8,"y":-9.3},
{"d":"LB","t":2,"x":0,"y":0},{"d":"LB","t":2,"x":-8,"y":-1},{"d":"LB","t":2,"x":-15,"y":-3},{"d":"LB","t":2,"x":-22,"y":-5.5},{"d":"LB","t":2,"x":-26,"y":-6.5},
{"d":"LB","t":3,"x":0,"y":0},{"d":"LB","t":3,"x":-6,"y":-1.5},{"d":"LB","t":3,"x":-12,"y":-5},{"d":"LB","t":3,"x":-17,"y":-7},{"d":"LB","t":3,"x":-21,"y":-7.5},
{"d":"LB","t":4,"x":0,"y":0},{"d":"LB","t":4,"x":-10,"y":-1.5},{"d":"LB","t":4,"x":-18,"y":-4},{"d":"LB","t":4,"x":-25,"y":-7},
{"d":"LB","t":5,"x":0,"y":0},{"d":"LB","t":5,"x":-12,"y":-3.4},{"d":"LB","t":5,"x":-24.5,"y":-7.6},
{"d":"LB","t":6,"x":0,"y":0},{"d":"LB","t":6,"x":-11,"y":-2.8},{"d":"LB","t":6,"x":-22.5,"y":-6.6},
{"d":"LB","t":7,"x":0,"y":0},{"d":"LB","t":7,"x":-12,"y":-3.8},{"d":"LB","t":7,"x":-24,"y":-8},
{"d":"B","t":0,"x":0,"y":0},{"d":"B","t":0,"x":-5,"y":1},{"d":"B","t":0,"x":-10,"y":2},{"d":"B","t":0,"x":-15,"y":3},{"d":"B","t":0,"x":-18.9,"y":4},
{"d":"B","t":1,"x":0,"y":0},{"d":"B","t":1,"x":-4,"y":3},{"d":"B","t":1,"x":-8,"y":5.5},{"d":"B","t":1,"x":-12,"y":7},{"d":"B","t":1,"x":-16,"y":6},{"d":"B","t":1,"x":-18,"y":3},
{"d":"B","t":2,"x":0,"y":0},{"d":"B","t":2,"x":-8,"y":2},{"d":"B","t":2,"x":-16,"y":3.5},{"d":"B","t":2,"x":-22,"y":4},{"d":"B","t":2,"x":-25,"y":3.5},
{"d":"B","t":3,"x":0,"y":0},{"d":"B","t":3,"x":-8,"y":0.5},{"d":"B","t":3,"x":-16,"y":0.5},{"d":"B","t":3,"x":-22,"y":1},{"d":"B","t":3,"x":-24,"y":2},
{"d":"B","t":4,"x":0,"y":0},{"d":"B","t":4,"x":-10,"y":1.5},{"d":"B","t":4,"x":-18,"y":3},{"d":"B","t":4,"x":-23,"y":4.5},
{"d":"B","t":5,"x":0,"y":0},{"d":"B","t":5,"x":-10,"y":2.2},{"d":"B","t":5,"x":-19.8,"y":4.5},
{"d":"B","t":6,"x":0,"y":0},{"d":"B","t":6,"x":-9.5,"y":1.5},{"d":"B","t":6,"x":-18.5,"y":3.4},
{"d":"B","t":7,"x":0,"y":0},{"d":"B","t":7,"x":-10.5,"y":2.4},{"d":"B","t":7,"x":-20.5,"y":4.2}
],
"t4": [
{"d":"MB","t":0,"x":0,"y":0},{"d":"MB","t":0,"x":-0.8,"y":4.6},{"d":"MB","t":0,"x":-1.9,"y":9.3},{"d":"MB","t":0,"x":-3,"y":13.9},
{"d":"MB","t":1,"x":0,"y":0},{"d":"MB","t":1,"x":-1.5,"y":5},{"d":"MB","t":1,"x":-3.5,"y":10},{"d":"MB","t":1,"x":-5.1,"y":13.2},
{"d":"MB","t":2,"x":0,"y":0},{"d":"MB","t":2,"x":-1,"y":4},{"d":"MB","t":2,"x":-3,"y":7},{"d":"MB","t":2,"x":-5,"y":9},{"d":"MB","t":2,"x":-5.5,"y":10.5},
{"d":"MB","t":3,"x":0,"y":0},{"d":"MB","t":3,"x":0.5,"y":4},{"d":"MB","t":3,"x":1,"y":8.5},{"d":"MB","t":3,"x":0.8,"y":12.8},
{"d":"MB","t":4,"x":0,"y":0},{"d":"MB","t":4,"x":-0.5,"y":5},{"d":"MB","t":4,"x":-1.3,"y":9.5},{"d":"MB","t":4,"x":-2,"y":13.5},
{"d":"MB","t":5,"x":0,"y":0},{"d":"MB","t":5,"x":-1.2,"y":7},{"d":"MB","t":5,"x":-2.6,"y":14.2},
{"d":"MB","t":6,"x":0,"y":0},{"d":"MB","t":6,"x":-1.8,"y":6.8},{"d":"MB","t":6,"x":-3.5,"y":13.4},
{"d":"MB","t":7,"x":0,"y":0},{"d":"MB","t":7,"x":-1,"y":6.5},{"d":"MB","t":7,"x":-2.2,"y":13.2},
{"d":"M","t":0,"x":0,"y":0},{"d":"M","t":0,"x":3.4,"y":2.6},{"d":"M","t":0,"x":6.8,"y":5.2},{"d":"M","t":0,"x":10.2,"y":7.8},{"d":"M","t":0,"x":13.5,"y":10.4},
{"d":"M","t":1,"x":0,"y":0},{"d":"M","t":1,"x":4,"y":3.5},{"d":"M","t":1,"x":9.5,"y":8},{"d":"M","t":1,"x":14.9,"y":11.8},
{"d":"M","t":2,"x":0,"y":0},{"d":"M","t":2,"x":3,"y":3.5},{"d":"M","t":2,"x":7,"y":7.5},{"d":"M","t":2,"x":12,"y":11},
{"d":"M","t":3,"x":0,"y":0},{"d":"M","t":3,"x":4,"y":4},{"d":"M","t":3,"x":9,"y":8},{"d":"M","t":3,"x":14.5,"y":11.5},
{"d":"M","t":4,"x":0,"y":0},{"d":"M","t":4,"x":7,"y":5.6},{"d":"M","t":4,"x":14.2,"y":11},
{"d":"M","t":5,"x":0,"y":0},{"d":"M","t":5,"x":7,"y":5},{"d":"M","t":5,"x":14,"y":10},
{"d":"M","t":6,"x":0,"y":0},{"d":"M","t":6,"x":6.5,"y":5.4},{"d":"M","t":6,"x":12.8,"y":10.6},
{"d":"MF","t":0,"x":0,"y":0},{"d":"MF","t":0,"x":8,"y":1},{"d":"MF","t":0,"x":16,"y":1.2},{"d":"MF","t":0,"x":23.3,"y":0.9},
{"d":"MF","t":1,"x":0,"y":0},{"d":"MF","t":1,"x":10,"y":2.3},{"d":"MF","t":1,"x":20,"y":2.4},{"d":"MF","t":1,"x":25,"y":1.7},
{"d":"MF","t":2,"x":0,"y":0},{"d":"MF","t":2,"x":10,"y":0.5},{"d":"MF","t":2,"x":18,"y":-0.5},{"d":"MF","t":2,"x":22,"y":-0.3},{"d":"MF","t":2,"x":25.8,"y":0.5},
{"d":"MF","t":3,"x":0,"y":0},{"d":"MF","t":3,"x":8,"y":1.5},{"d":"MF","t":3,"x":16,"y":1.8},{"d":"MF","t":3,"x":22,"y":1.5},
{"d":"MF","t":4,"x":0,"y":0},{"d":"MF","t":4,"x":12,"y":1.6},{"d":"MF","t":4,"x":24,"y":1.4},
{"d":"MF","t":5,"x":0,"y":0},{"d":"MF","t":5,"x":12,"y":0.8},{"d":"MF","t":5,"x":23,"y":0.5},
{"d":"MF","t":6,"x":0,"y":0},{"d":"MF","t":6,"x":11,"y":1.3},{"d":"MF","t":6,"x":25,"y":1.1},
{"d":"F","t":0,"x":0,"y":0},{"d":"F","t":0,"x":5,"y":-2.2},{"d":"F","t":0,"x":10,"y":-4.5},{"d":"F","t":0,"x":15,"y":-6.7},{"d":"F","t":0,"x":19.8,"y":-8.9},
{"d":"F","t":1,"x":0,"y":0},{"d":"F","t":1,"x":7,"y":-2},{"d":"F","t":1,"x":14,"y":-4.5},{"d":"F","t":1,"x":20,"y":-8},{"d":"F","t":1,"x":22,"y":-10},
{"d":"F","t":2,"x":0,"y":0},{"d":"F","t":2,"x":5,"y":-2.5},{"d":"F","t":2,"x":11,"y":-6},{"d":"F","t":2,"x":14,"y":-7},{"d":"F","t":2,"x":19,"y":-9.5},
{"d":"F","t":3,"x":0,"y":0},{"d":"F","t":3,"x":8,"y":-1.5},{"d":"F","t":3,"x":16,"y":-5},{"d":"F","t":3,"x":21,"y":-9},
{"d":"F","t":4,"x":0,"y":0},{"d":"F","t":4,"x":10,"y":-4.2},{"d":"F","t":4,"x":20.5,"y":-9.3},
{"d":"F","t":5,"x":0,"y":0},{"d":"F","t":5,"x":10,"y":-4.8},{"d":"F","t":5,"x":19.3,"y":-9.3},
{"d":"F","t":6,"x":0,"y":0},{"d":"F","t":6,"x":10.5,"y":-4.3},{"d":"F","t":6,"x":21,"y":-9.4},
{"d":"LF","t":0,"x":0,"y":0},{"d":"LF","t":0,"x":1,"y":-4},{"d":"LF","t":0,"x":3,"y":-9},{"d":"LF","t":0,"x":6.8,"y":-13.5},
{"d":"LF","t":1,"x":0,"y":0},{"d":"LF","t":1,"x":1,"y":-5},{"d":"LF","t":1,"x":3.5,"y":-10},{"d":"LF","t":1,"x":8,"y":-14},
{"d":"LF","t":2,"x":0,"y":0},{"d":"LF","t":2,"x":3,"y":-5},{"d":"LF","t":2,"x":6,"y":-10},{"d":"LF","t":2,"x":8.5,"y":-14.2},
{"d":"LF","t":3,"x":0,"y":0},{"d":"LF","t":3,"x":1,"y":-3},{"d":"LF","t":3,"x":2,"y":-8},{"d":"LF","t":3,"x":3,"y":-11},{"d":"LF","t":3,"x":5,"y":-13.5},
{"d":"LF","t":4,"x":0,"y":0},{"d":"LF","t":4,"x":2.6,"y":-7},{"d":"LF","t":4,"x":7.2,"y":-14},
{"d":"LF","t":5,"x":0,"y":0},{"d":"LF","t":5,"x":2.2,"y":-7},{"d":"LF","t":5,"x":6.2,"y":-13.8},
{"d":"LF","t":6,"x":0,"y":0},{"d":"LF","t":6,"x":3.2,"y":-6.6},{"d":"LF","t":6,"x":7.5,"y":-13.2},
{"d":"L","t":0,"x":0,"y":0},{"d":"L","t":0,"x":-3,"y":-3.8},{"d":"L","t":0,"x":-6.7,"y":-8.5},{"d":"L","t":0,"x":-10,"y":-12.8},
{"d":"L","t":1,"x":0,"y":0},{"d":"L","t":1,"x":-4,"y":-4},{"d":"L","t":1,"x":-8,"y":-8},{"d":"L","t":1,"x":-12.1,"y":-10.4},
{"d":"L","t":2,"x":0,"y":0},{"d":"L","t":2,"x":-3,"y":-4},{"d":"L","t":2,"x":-7,"y":-9},{"d":"L","t":2,"x":-10.5,"y":-13.5},
{"d":"L","t":3,"x":0,"y":0},{"d":"L","t":3,"x":-2.5,"y":-4},{"d":"L","t":3,"x":-6,"y":-8.5},{"d":"L","t":3,"x":-9,"y":-13},
{"d":"L","t":4,"x":0,"y":0},{"d":"L","t":4,"x":-5.2,"y":-6.5},{"d":"L","t":4,"x":-10.6,"y":-13.2},
{"d":"L","t":5,"x":0,"y":0},{"d":"L","t":5,"x":-4.8,"y":-6.6},{"d":"L","t":5,"x":-9.6,"y":-13.4},
{"d":"L","t":6,"x":0,"y":0},{"d":"L","t":6,"x":-5.4,"y":-6.2},{"d":"L","t":6,"x":-10.8,"y":-12.4},
{"d":"LB","t":0,"x":0,"y":0},{"d":"LB","t":0,"x":-8,"y":-2},{"d":"LB","t":0,"x":-16,"y":-4.3},{"d":"LB","t":0,"x":-23.4,"y":-6.5},
{"d":"LB","t":1,"x":0,"y":0},{"d":"LB","t":1,"x":-10,"y":-2.5},{"d":"LB","t":1,"x":-20,"y":-6.5},{"d":"LB","t":1,"x":-28.3,"y":-9},
{"d":"LB","t":2,"x":0,"y":0},{"d":"LB","t":2,"x":-8,"y":-1},{"d":"LB","t":2,"x":-16,"y":-3},{"d":"LB","t":2,"x":-24,"y":-5},
{"d":"LB","t":3,"x":0,"y":0},{"d":"LB","t":3,"x":-10,"y":-3},{"d":"LB","t":3,"x":-18,"y":-6.5},{"d":"LB","t":3,"x":-25,"y":-8},
{"d":"LB","t":4,"x":0,"y":0},{"d":"LB","t":4,"x":-12,"y":-3.2},{"d":"LB","t":4,"x":-24,"y":-7},
{"d":"LB","t":5,"x":0,"y":0},{"d":"LB","t":5,"x":-11,"y":-2.6},{"d":"LB","t":5,"x":-22.5,"y":-6},
{"d":"LB","t":6,"x":0,"y":0},{"d":"LB","t":6,"x":-12,"y":-3.6},{"d":"LB","t":6,"x":-24,"y":-7.6},
{"d":"B","t":0,"x":0,"y":0},{"d":"B","t":0,"x":-5,"y":0.9},{"d":"B","t":0,"x":-10,"y":1.8},{"d":"B","t":0,"x":-15,"y":2.6},{"d":"B","t":0,"x":-18.8,"y":3.4},
{"d":"B","t":1,"x":0,"y":0},{"d":"B","t":1,"x":-8,"y":2},{"d":"B","t":1,"x":-16,"y":4},{"d":"B","t":1,"x":-22,"y":4},
{"d":"B","t":2,"x":0,"y":0},{"d":"B","t":2,"x":-10,"y":1},{"d":"B","t":2,"x":-18,"y":1},{"d":"B","t":2,"x":-24,"y":1},
{"d":"B","t":3,"x":0,"y":0},{"d":"B","t":3,"x":-8,"y":1.5},{"d":"B","t":3,"x":-16,"y":3},{"d":"B","t":3,"x":-20,"y":2.5},{"d":"B","t":3,"x":-23,"y":2.5},
{"d":"B","t":4,"x":0,"y":0},{"d":"B","t":4,"x":-10,"y":2},{"d":"B","t":4,"x":-19.8,"y":3.9},
{"d":"B","t":5,"x":0,"y":0},{"d":"B","t":5,"x":-9.5,"y":1.4},{"d":"B","t":5,"x":-18.5,"y":3},
{"d":"B","t":6,"x":0,"y":0},{"d":"B","t":6,"x":-10.5,"y":2.2},{"d":"B","t":6,"x":-20.5,"y":3.6}
]
},
"concat": [
{
"width": 284, "height": 284,
"layer": [
{"data": {"name": "t1"}, "transform": [{"filter": "datum.t > 0"}],
 "mark": {"type": "line", "strokeWidth": 1.3, "opacity": 0.65},
 "encoding": {
  "x": {"field": "x", "type": "quantitative", "scale": {"domain": [-30, 30]}, "axis": {"values": [-30,-20,-10,0,10,20,30], "labels": false, "title": null}},
  "y": {"field": "y", "type": "quantitative", "scale": {"domain": [-30, 30]}, "axis": {"values": [-30,-20,-10,0,10,20,30], "title": "Elbow (deg)", "labelPadding": 10, "titlePadding": 32}},
  "stroke": {"field": "d", "type": "nominal", "scale": {"domain": ["MB","M","MF","F","LF","L","LB","B"], "range": ["#b762c4","#5aaa5a","#6f86d4","#ec7a5a","#e07a45","#a8d46a","#7ab8e8","#eda0c0"]}, "legend": null},
  "detail": [{"field": "d"}, {"field": "t"}],
  "order": {"value": null}}},
{"data": {"name": "one"}, "mark": {"type": "rule", "color": "#222", "strokeWidth": 1.5}, "encoding": {"y": {"datum": 0}}},
{"data": {"name": "one"}, "mark": {"type": "rule", "color": "#222", "strokeWidth": 1.5}, "encoding": {"x": {"datum": 0}}},
{"data": {"name": "one"}, "mark": {"type": "rect", "color": "white"}, "encoding": {"x": {"datum": -29.6}, "x2": {"datum": 7.2}, "y": {"datum": 22.9}, "y2": {"datum": 29.6}}},
{"data": {"name": "t1"}, "transform": [{"filter": "datum.t == 0"}],
 "mark": {"type": "line", "strokeWidth": 4.5},
 "encoding": {"x": {"field": "x", "type": "quantitative"}, "y": {"field": "y", "type": "quantitative"},
  "color": {"field": "d", "type": "nominal", "scale": {"domain": ["MB","M","MF","F","LF","L","LB","B"], "range": ["#9e3fb0","#3d963d","#3b5fb9","#e3191c","#d45a22","#8cc63f","#4a9fdd","#e485ad"]}, "legend": null},
  "detail": {"field": "d"}, "order": {"value": null}}},
{"data": {"name": "lab"}, "transform": [{"filter": "datum.p == 1"}], "mark": {"type": "text", "font": "Lato", "fontSize": 18, "color": "#222"}, "encoding": {"x": {"field": "x", "type": "quantitative"}, "y": {"field": "y", "type": "quantitative"}, "text": {"field": "d"}}},
{"data": {"name": "one"}, "mark": {"type": "text", "text": "More-affected-T", "align": "left", "baseline": "middle", "font": "Lato", "fontSize": 21.5, "fontWeight": "bold", "color": "#ee8c6e"}, "encoding": {"x": {"datum": -28.6}, "y": {"datum": 26.3}}},
{"data": {"name": "one"}, "mark": {"type": "text", "text": "A", "align": "left", "baseline": "middle", "font": "Lato", "fontSize": 13, "fontWeight": "bold", "color": "#ee8c6e"}, "encoding": {"x": {"datum": 4.8}, "y": {"datum": 23.8}}},
{"data": {"name": "one"}, "mark": {"type": "text", "text": "A", "font": "Liberation Sans", "fontSize": 31, "fontWeight": "bold", "color": "#000"}, "encoding": {"x": {"datum": -48.3}, "y": {"datum": 28.1}}},
{"data": {"name": "one"}, "mark": {"type": "text", "text": "Flx", "font": "Lato", "fontSize": 17, "color": "#222"}, "encoding": {"x": {"datum": -39.6}, "y": {"datum": 12.6}}},
{"data": {"name": "one"}, "mark": {"type": "text", "text": "Ext", "font": "Lato", "fontSize": 17, "color": "#222"}, "encoding": {"x": {"datum": -39.6}, "y": {"datum": -14.1}}},
{"data": {"name": "one"}, "mark": {"type": "rule", "color": "#222", "strokeWidth": 1.3}, "encoding": {"x": {"datum": -39.6}, "y": {"datum": 2.0}, "y2": {"datum": 9.6}}},
{"data": {"name": "one"}, "mark": {"type": "point", "shape": "triangle-up", "filled": true, "size": 30, "opacity": 1, "color": "#222"}, "encoding": {"x": {"datum": -39.6}, "y": {"datum": 9.5}}},
{"data": {"name": "one"}, "mark": {"type": "rule", "color": "#222", "strokeWidth": 1.3}, "encoding": {"x": {"datum": -39.6}, "y": {"datum": -3.3}, "y2": {"datum": -10.9}}},
{"data": {"name": "one"}, "mark": {"type": "point", "shape": "triangle-down", "filled": true, "size": 30, "opacity": 1, "color": "#222"}, "encoding": {"x": {"datum": -39.6}, "y": {"datum": -10.8}}}
]
},
{
"width": 284, "height": 284,
"layer": [
{"data": {"name": "t2"}, "transform": [{"filter": "datum.t > 0"}],
 "mark": {"type": "line", "strokeWidth": 1.3, "opacity": 0.65},
 "encoding": {
  "x": {"field": "x", "type": "quantitative", "scale": {"domain": [-30, 30]}, "axis": {"values": [-30,-20,-10,0,10,20,30], "labels": false, "title": null}},
  "y": {"field": "y", "type": "quantitative", "scale": {"domain": [-30, 30]}, "axis": {"values": [-30,-20,-10,0,10,20,30], "labels": false, "title": null}},
  "stroke": {"field": "d", "type": "nominal", "scale": {"domain": ["MB","M","MF","F","LF","L","LB","B"], "range": ["#b762c4","#5aaa5a","#6f86d4","#ec7a5a","#e07a45","#a8d46a","#7ab8e8","#eda0c0"]}, "legend": null},
  "detail": [{"field": "d"}, {"field": "t"}],
  "order": {"value": null}}},
{"data": {"name": "one"}, "mark": {"type": "rule", "color": "#222", "strokeWidth": 1.5}, "encoding": {"y": {"datum": 0}}},
{"data": {"name": "one"}, "mark": {"type": "rule", "color": "#222", "strokeWidth": 1.5}, "encoding": {"x": {"datum": 0}}},
{"data": {"name": "one"}, "mark": {"type": "rect", "color": "white"}, "encoding": {"x": {"datum": -29.6}, "x2": {"datum": 4.8}, "y": {"datum": 22.9}, "y2": {"datum": 29.6}}},
{"data": {"name": "t2"}, "transform": [{"filter": "datum.t == 0"}],
 "mark": {"type": "line", "strokeWidth": 4.5},
 "encoding": {"x": {"field": "x", "type": "quantitative"}, "y": {"field": "y", "type": "quantitative"},
  "color": {"field": "d", "type": "nominal", "scale": {"domain": ["MB","M","MF","F","LF","L","LB","B"], "range": ["#9e3fb0","#3d963d","#3b5fb9","#e3191c","#d45a22","#8cc63f","#4a9fdd","#e485ad"]}, "legend": null},
  "detail": {"field": "d"}, "order": {"value": null}}},
{"data": {"name": "lab"}, "transform": [{"filter": "datum.p == 2"}], "mark": {"type": "text", "font": "Lato", "fontSize": 18, "color": "#222"}, "encoding": {"x": {"field": "x", "type": "quantitative"}, "y": {"field": "y", "type": "quantitative"}, "text": {"field": "d"}}},
{"data": {"name": "one"}, "mark": {"type": "text", "text": "Less-affected-T", "align": "left", "baseline": "middle", "font": "Lato", "fontSize": 21.5, "fontWeight": "bold", "color": "#82b9e6"}, "encoding": {"x": {"datum": -29.2}, "y": {"datum": 26.3}}},
{"data": {"name": "one"}, "mark": {"type": "text", "text": "A", "align": "left", "baseline": "middle", "font": "Lato", "fontSize": 13, "fontWeight": "bold", "color": "#82b9e6"}, "encoding": {"x": {"datum": 2.1}, "y": {"datum": 23.8}}}
]
},
{
"width": 284, "height": 284,
"layer": [
{"data": {"name": "t3"}, "transform": [{"filter": "datum.t > 0"}],
 "mark": {"type": "line", "strokeWidth": 1.3, "opacity": 0.65},
 "encoding": {
  "x": {"field": "x", "type": "quantitative", "scale": {"domain": [-30, 30]}, "axis": {"values": [-30,-20,-10,0,10,20,30], "title": "Shoulder (deg)", "labelPadding": 6, "titlePadding": 27}},
  "y": {"field": "y", "type": "quantitative", "scale": {"domain": [-30, 30]}, "axis": {"values": [-30,-20,-10,0,10,20,30], "title": "Elbow (deg)", "labelPadding": 10, "titlePadding": 32}},
  "stroke": {"field": "d", "type": "nominal", "scale": {"domain": ["MB","M","MF","F","LF","L","LB","B"], "range": ["#b762c4","#5aaa5a","#6f86d4","#ec7a5a","#e07a45","#a8d46a","#7ab8e8","#eda0c0"]}, "legend": null},
  "detail": [{"field": "d"}, {"field": "t"}],
  "order": {"value": null}}},
{"data": {"name": "one"}, "mark": {"type": "rule", "color": "#222", "strokeWidth": 1.5}, "encoding": {"y": {"datum": 0}}},
{"data": {"name": "one"}, "mark": {"type": "rule", "color": "#222", "strokeWidth": 1.5}, "encoding": {"x": {"datum": 0}}},
{"data": {"name": "one"}, "mark": {"type": "rect", "color": "white"}, "encoding": {"x": {"datum": -29.6}, "x2": {"datum": 7.2}, "y": {"datum": 22.9}, "y2": {"datum": 29.6}}},
{"data": {"name": "t3"}, "transform": [{"filter": "datum.t == 0"}],
 "mark": {"type": "line", "strokeWidth": 4.5},
 "encoding": {"x": {"field": "x", "type": "quantitative"}, "y": {"field": "y", "type": "quantitative"},
  "color": {"field": "d", "type": "nominal", "scale": {"domain": ["MB","M","MF","F","LF","L","LB","B"], "range": ["#9e3fb0","#3d963d","#3b5fb9","#e3191c","#d45a22","#8cc63f","#4a9fdd","#e485ad"]}, "legend": null},
  "detail": {"field": "d"}, "order": {"value": null}}},
{"data": {"name": "lab"}, "transform": [{"filter": "datum.p == 3"}], "mark": {"type": "text", "font": "Lato", "fontSize": 18, "color": "#222"}, "encoding": {"x": {"field": "x", "type": "quantitative"}, "y": {"field": "y", "type": "quantitative"}, "text": {"field": "d"}}},
{"data": {"name": "one"}, "mark": {"type": "text", "text": "More-affected-T", "align": "left", "baseline": "middle", "font": "Lato", "fontSize": 21.5, "fontWeight": "bold", "color": "#c0161c"}, "encoding": {"x": {"datum": -29.2}, "y": {"datum": 26.3}}},
{"data": {"name": "one"}, "mark": {"type": "text", "text": "D", "align": "left", "baseline": "middle", "font": "Lato", "fontSize": 13, "fontWeight": "bold", "color": "#c0161c"}, "encoding": {"x": {"datum": 4.4}, "y": {"datum": 23.8}}},
{"data": {"name": "one"}, "mark": {"type": "text", "text": "B", "font": "Liberation Sans", "fontSize": 31, "fontWeight": "bold", "color": "#000"}, "encoding": {"x": {"datum": -48.3}, "y": {"datum": 28.6}}},
{"data": {"name": "one"}, "mark": {"type": "text", "text": "Flx", "font": "Lato", "fontSize": 17, "color": "#222"}, "encoding": {"x": {"datum": -39.6}, "y": {"datum": 13.0}}},
{"data": {"name": "one"}, "mark": {"type": "text", "text": "Ext", "font": "Lato", "fontSize": 17, "color": "#222"}, "encoding": {"x": {"datum": -39.6}, "y": {"datum": -13.7}}},
{"data": {"name": "one"}, "mark": {"type": "rule", "color": "#222", "strokeWidth": 1.3}, "encoding": {"x": {"datum": -39.6}, "y": {"datum": 2.4}, "y2": {"datum": 10.0}}},
{"data": {"name": "one"}, "mark": {"type": "point", "shape": "triangle-up", "filled": true, "size": 30, "opacity": 1, "color": "#222"}, "encoding": {"x": {"datum": -39.6}, "y": {"datum": 9.9}}},
{"data": {"name": "one"}, "mark": {"type": "rule", "color": "#222", "strokeWidth": 1.3}, "encoding": {"x": {"datum": -39.6}, "y": {"datum": -3.0}, "y2": {"datum": -10.5}}},
{"data": {"name": "one"}, "mark": {"type": "point", "shape": "triangle-down", "filled": true, "size": 30, "opacity": 1, "color": "#222"}, "encoding": {"x": {"datum": -39.6}, "y": {"datum": -10.4}}},
{"data": {"name": "one"}, "mark": {"type": "text", "text": "Ext", "font": "Lato", "fontSize": 16, "color": "#222"}, "encoding": {"x": {"datum": -14.1}, "y": {"datum": -37.9}}},
{"data": {"name": "one"}, "mark": {"type": "text", "text": "Flx", "font": "Lato", "fontSize": 16, "color": "#222"}, "encoding": {"x": {"datum": 14.1}, "y": {"datum": -37.9}}},
{"data": {"name": "one"}, "mark": {"type": "rule", "color": "#222", "strokeWidth": 1.3}, "encoding": {"x": {"datum": -2.3}, "x2": {"datum": -10.2}, "y": {"datum": -37.9}}},
{"data": {"name": "one"}, "mark": {"type": "point", "shape": "triangle-left", "filled": true, "size": 30, "opacity": 1, "color": "#222"}, "encoding": {"x": {"datum": -10.1}, "y": {"datum": -37.9}}},
{"data": {"name": "one"}, "mark": {"type": "rule", "color": "#222", "strokeWidth": 1.3}, "encoding": {"x": {"datum": 2.9}, "x2": {"datum": 10.8}, "y": {"datum": -37.9}}},
{"data": {"name": "one"}, "mark": {"type": "point", "shape": "triangle-right", "filled": true, "size": 30, "opacity": 1, "color": "#222"}, "encoding": {"x": {"datum": 10.7}, "y": {"datum": -37.9}}}
]
},
{
"width": 284, "height": 284,
"layer": [
{"data": {"name": "t4"}, "transform": [{"filter": "datum.t > 0"}],
 "mark": {"type": "line", "strokeWidth": 1.3, "opacity": 0.65},
 "encoding": {
  "x": {"field": "x", "type": "quantitative", "scale": {"domain": [-30, 30]}, "axis": {"values": [-30,-20,-10,0,10,20,30], "title": "Shoulder (deg)", "labelPadding": 6, "titlePadding": 27}},
  "y": {"field": "y", "type": "quantitative", "scale": {"domain": [-30, 30]}, "axis": {"values": [-30,-20,-10,0,10,20,30], "labels": false, "title": null}},
  "stroke": {"field": "d", "type": "nominal", "scale": {"domain": ["MB","M","MF","F","LF","L","LB","B"], "range": ["#b762c4","#5aaa5a","#6f86d4","#ec7a5a","#e07a45","#a8d46a","#7ab8e8","#eda0c0"]}, "legend": null},
  "detail": [{"field": "d"}, {"field": "t"}],
  "order": {"value": null}}},
{"data": {"name": "one"}, "mark": {"type": "rule", "color": "#222", "strokeWidth": 1.5}, "encoding": {"y": {"datum": 0}}},
{"data": {"name": "one"}, "mark": {"type": "rule", "color": "#222", "strokeWidth": 1.5}, "encoding": {"x": {"datum": 0}}},
{"data": {"name": "one"}, "mark": {"type": "rect", "color": "white"}, "encoding": {"x": {"datum": -29.6}, "x2": {"datum": 4.8}, "y": {"datum": 22.9}, "y2": {"datum": 29.6}}},
{"data": {"name": "t4"}, "transform": [{"filter": "datum.t == 0"}],
 "mark": {"type": "line", "strokeWidth": 4.5},
 "encoding": {"x": {"field": "x", "type": "quantitative"}, "y": {"field": "y", "type": "quantitative"},
  "color": {"field": "d", "type": "nominal", "scale": {"domain": ["MB","M","MF","F","LF","L","LB","B"], "range": ["#9e3fb0","#3d963d","#3b5fb9","#e3191c","#d45a22","#8cc63f","#4a9fdd","#e485ad"]}, "legend": null},
  "detail": {"field": "d"}, "order": {"value": null}}},
{"data": {"name": "lab"}, "transform": [{"filter": "datum.p == 4"}], "mark": {"type": "text", "font": "Lato", "fontSize": 18, "color": "#222"}, "encoding": {"x": {"field": "x", "type": "quantitative"}, "y": {"field": "y", "type": "quantitative"}, "text": {"field": "d"}}},
{"data": {"name": "one"}, "mark": {"type": "text", "text": "Less-affected-T", "align": "left", "baseline": "middle", "font": "Lato", "fontSize": 21.5, "fontWeight": "bold", "color": "#3c66b4"}, "encoding": {"x": {"datum": -29.2}, "y": {"datum": 26.3}}},
{"data": {"name": "one"}, "mark": {"type": "text", "text": "D", "align": "left", "baseline": "middle", "font": "Lato", "fontSize": 13, "fontWeight": "bold", "color": "#3c66b4"}, "encoding": {"x": {"datum": 2.8}, "y": {"datum": 23.8}}},
{"data": {"name": "one"}, "mark": {"type": "text", "text": "Ext", "font": "Lato", "fontSize": 16, "color": "#222"}, "encoding": {"x": {"datum": -14.1}, "y": {"datum": -37.9}}},
{"data": {"name": "one"}, "mark": {"type": "text", "text": "Flx", "font": "Lato", "fontSize": 16, "color": "#222"}, "encoding": {"x": {"datum": 14.1}, "y": {"datum": -37.9}}},
{"data": {"name": "one"}, "mark": {"type": "rule", "color": "#222", "strokeWidth": 1.3}, "encoding": {"x": {"datum": -2.3}, "x2": {"datum": -10.2}, "y": {"datum": -37.9}}},
{"data": {"name": "one"}, "mark": {"type": "point", "shape": "triangle-left", "filled": true, "size": 30, "opacity": 1, "color": "#222"}, "encoding": {"x": {"datum": -10.1}, "y": {"datum": -37.9}}},
{"data": {"name": "one"}, "mark": {"type": "rule", "color": "#222", "strokeWidth": 1.3}, "encoding": {"x": {"datum": 2.9}, "x2": {"datum": 10.8}, "y": {"datum": -37.9}}},
{"data": {"name": "one"}, "mark": {"type": "point", "shape": "triangle-right", "filled": true, "size": 30, "opacity": 1, "color": "#222"}, "encoding": {"x": {"datum": 10.7}, "y": {"datum": -37.9}}}
]
}
]
}
